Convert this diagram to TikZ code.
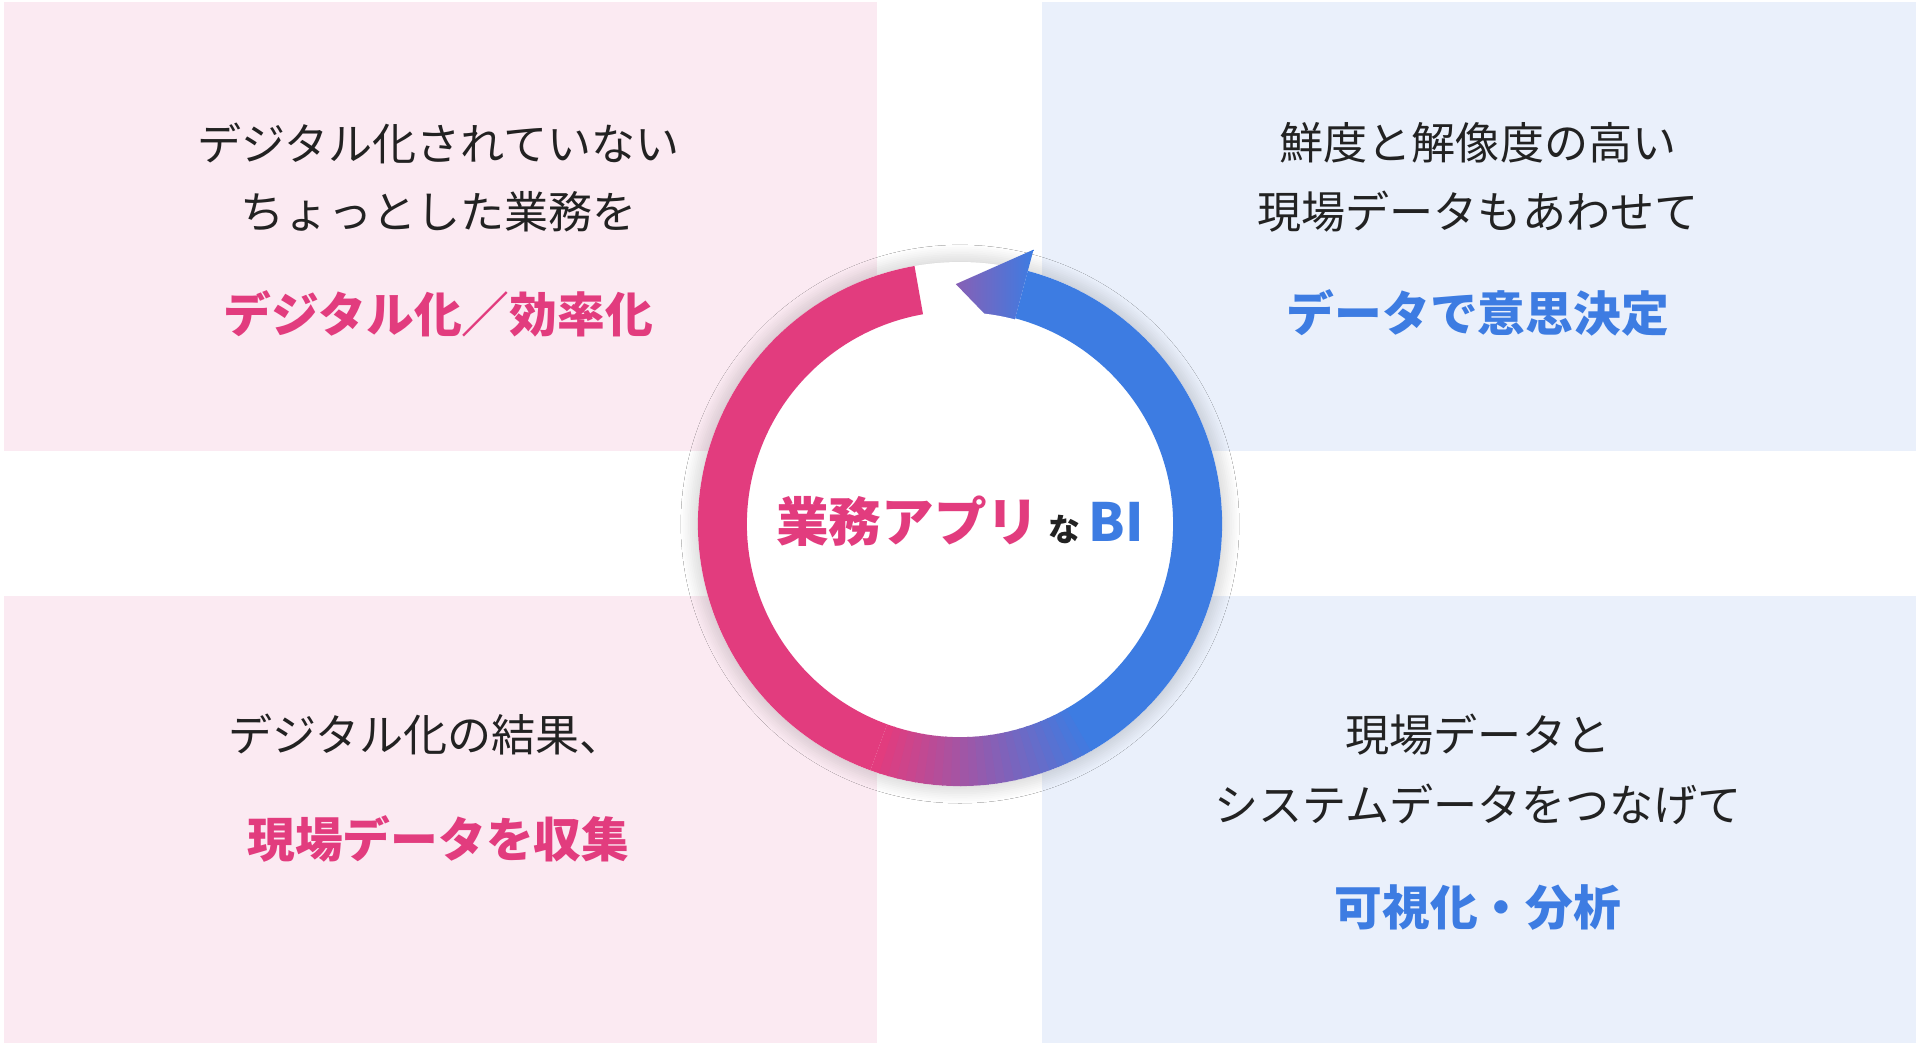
\documentclass[tikz,border=0pt]{standalone}
\usepackage{fontspec}
\setmainfont{Noto Sans CJK JP}
\usetikzlibrary{shadows.blur}
\definecolor{pinkA}{HTML}{E23C7E}
\definecolor{blueA}{HTML}{3D7CE2}
\definecolor{pinkBg}{HTML}{FBEAF2}
\definecolor{blueBg}{HTML}{EAF0FB}
\definecolor{txt}{HTML}{222222}
\tikzset{
  box/.style={inner sep=0},
  body/.style={font=\fontsize{36}{44}\selectfont, text=txt, align=center, inner sep=0},
  hlp/.style={font=\bfseries\fontsize{39}{46}\selectfont, text=pinkA, inner sep=0},
  hlb/.style={font=\bfseries\fontsize{39}{46}\selectfont, text=blueA, inner sep=0},
}
\begin{document}
\begin{tikzpicture}[x=1pt,y=1pt]
\useasboundingbox (0,0) rectangle (1568,854);
\fill[white] (0,0) rectangle (1568,854);
\fill[pinkBg] (3,486) rectangle (716,852);
\fill[blueBg] (851,486) rectangle (1565,852);
\fill[pinkBg] (3,2) rectangle (716,367);
\fill[blueBg] (851,2) rectangle (1565,367);
\coordinate (c) at (784,426);
% soft glow
\fill[white, blur shadow={shadow blur steps=10, shadow xshift=0pt, shadow yshift=0pt, shadow blur radius=14pt, shadow opacity=25}] (c) circle (214);
% ring
\fill[pinkA] (c) ++(100:214) arc (100:250:214) -- ++(250:-40) arc (250:100:174) -- cycle;
\foreach \a in {250,252,...,298}{
  \pgfmathsetmacro\p{(\a-250)/50*100}
  \fill[blueA!\p!pinkA] (c) ++(\a:214) arc (\a:\a+2.3:214) -- ++(\a+2.3:-40) arc (\a+2.3:\a:174) -- cycle;
}
\fill[blueA] (c) ++(300:214) arc (300:435:214) -- ++(435:-40) arc (435:300:174) -- cycle;
\shade[left color=blueA!55!pinkA, right color=blueA] (c) ++(75:232) -- ($(c)+(91:196)$) -- ($(c)+(75:156)$) -- cycle;
\fill[white] (c) circle (173);
% center title
\node[inner sep=0, anchor=base] (title) at (784,412) {\bfseries\fontsize{43}{50}\selectfont\textcolor{pinkA}{業務アプリ}\,\textcolor{txt}{\fontsize{26}{30}\selectfont な}\,\textcolor{blueA}{BI}};
% texts
\node[body] (tl1) at (358,737) {デジタル化されていない};
\node[body] (tl2) at (358,681) {ちょっとした業務を};
\node[hlp] (tl3) at (358,598) {デジタル化／効率化};
\node[body] (tr1) at (1207,737) {鮮度と解像度の高い};
\node[body] (tr2) at (1207,681) {現場データもあわせて};
\node[hlb] (tr3) at (1207,598) {データで意思決定};
\node[body] (bl1) at (348,254) {デジタル化の結果、};
\node[hlp] (bl2) at (358,169) {現場データを収集};
\node[body] (br1) at (1207,254) {現場データと};
\node[body] (br2) at (1207,197) {システムデータをつなげて};
\node[hlb] (br3) at (1207,113) {可視化・分析};
\end{tikzpicture}
\end{document}
